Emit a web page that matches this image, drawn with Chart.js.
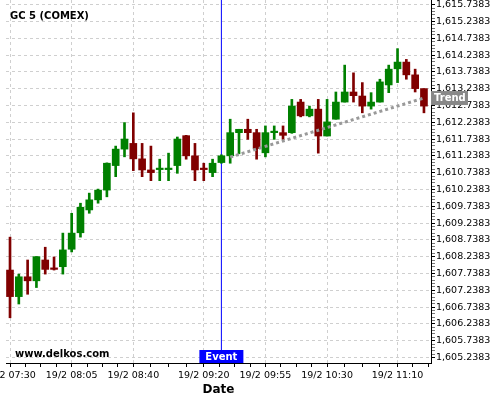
<!DOCTYPE html>
<html>
<head>
<meta charset="utf-8">
<script src="https://cdn.jsdelivr.net/npm/chart.js@4/dist/chart.umd.min.js"></script>
<style>
  html, body { margin: 0; padding: 0; background: #fff; }
  #wrap { width: 500px; height: 400px; }
</style>
</head>
<body>
<div id="wrap"><canvas id="chart" width="500" height="400"></canvas></div>
<script>
// GC 5 (COMEX), 5 minute candles
const times = [
    "19/2 07:30", "19/2 07:35", "19/2 07:40", "19/2 07:45", "19/2 07:50", "19/2 07:55",
    "19/2 08:00", "19/2 08:05", "19/2 08:10", "19/2 08:15", "19/2 08:20", "19/2 08:25",
    "19/2 08:30", "19/2 08:35", "19/2 08:40", "19/2 08:45", "19/2 08:50", "19/2 08:55",
    "19/2 09:00", "19/2 09:05", "19/2 09:10", "19/2 09:15", "19/2 09:20", "19/2 09:25",
    "19/2 09:30", "19/2 09:35", "19/2 09:40", "19/2 09:45", "19/2 09:50", "19/2 09:55",
    "19/2 10:00", "19/2 10:05", "19/2 10:10", "19/2 10:15", "19/2 10:20", "19/2 10:25",
    "19/2 10:30", "19/2 10:35", "19/2 10:40", "19/2 10:45", "19/2 10:50", "19/2 10:55",
    "19/2 11:00", "19/2 11:05", "19/2 11:10", "19/2 11:15", "19/2 11:20", "19/2 11:25"
];
const opens = [
    1607.84, 1607.05, 1607.64, 1607.52, 1608.14, 1607.88, 1607.94, 1608.46, 1608.95, 1609.63,
    1609.93, 1610.22, 1610.95, 1611.44, 1611.61, 1611.15, 1610.82, 1610.83, 1610.83, 1610.95,
    1611.84, 1611.24, 1610.85, 1610.74, 1611.04, 1611.24, 1611.93, 1612.03, 1611.93, 1611.33,
    1611.93, 1611.93, 1611.93, 1612.84, 1612.43, 1612.63, 1611.83, 1612.33, 1612.84, 1613.14,
    1613.02, 1612.72, 1612.84, 1613.35, 1613.83, 1614.03, 1613.65, 1613.24
];
const highs = [
    1608.82, 1607.72, 1608.14, 1608.24, 1608.52, 1608.23, 1608.94, 1609.53, 1609.83, 1610.13,
    1610.25, 1611.03, 1611.53, 1612.23, 1612.52, 1611.61, 1611.53, 1611.14, 1611.32, 1611.80,
    1611.85, 1611.61, 1611.02, 1611.14, 1611.27, 1612.33, 1612.03, 1612.33, 1612.03, 1612.13,
    1612.13, 1612.13, 1612.92, 1612.92, 1612.72, 1612.92, 1612.92, 1613.14, 1613.94, 1613.71,
    1613.42, 1613.12, 1613.52, 1613.94, 1614.43, 1614.11, 1613.82, 1613.24
];
const lows = [
    1606.42, 1606.83, 1607.12, 1607.32, 1607.72, 1607.84, 1607.72, 1608.38, 1608.82, 1609.53,
    1609.83, 1610.02, 1610.62, 1611.21, 1610.80, 1610.62, 1610.50, 1610.50, 1610.50, 1610.72,
    1611.14, 1610.50, 1610.50, 1610.62, 1611.02, 1611.02, 1611.30, 1611.73, 1611.14, 1611.21,
    1611.73, 1611.73, 1611.91, 1612.40, 1612.40, 1611.32, 1611.83, 1612.33, 1612.84, 1612.84,
    1612.52, 1612.63, 1612.84, 1613.12, 1613.42, 1613.52, 1613.14, 1612.52
];
const closes = [
    1607.05, 1607.64, 1607.52, 1608.24, 1607.86, 1607.86, 1608.44, 1608.94, 1609.71, 1609.93,
    1610.22, 1611.02, 1611.44, 1611.74, 1611.15, 1610.82, 1610.74, 1610.84, 1610.84, 1611.74,
    1611.24, 1610.82, 1610.83, 1611.02, 1611.24, 1611.93, 1612.03, 1611.93, 1611.46, 1611.93,
    1611.94, 1611.85, 1612.72, 1612.43, 1612.63, 1611.83, 1612.25, 1612.84, 1613.14, 1613.03,
    1612.72, 1612.84, 1613.44, 1613.82, 1614.03, 1613.65, 1613.24, 1612.72
];

// labelled x ticks (candle index)
const tickIdx = [0, 7, 14, 22, 29, 36, 44];
const minorIdx = [1.75, 3.5, 5.25, 8.75, 10.5, 12.25, 16, 18, 20, 23.75, 25.5, 27.25,
                  30.75, 32.5, 34.25, 38, 40, 42, 45.75, 47.5];

// y axis ticks: first label and step
const yFirstTick = 1605.2383;
const yLastTick = 1615.7383;
const yMin = 1605.074;
const yMax = 1615.878;

// trend line (candle index / price)
const trendX = [25, 47];
const trendY = [1611.20, 1612.96];
const eventIdx = 24;

const chartTitle = "GC 5 (COMEX)";
const watermark = "www.delkos.com";

const UP = "#008000";
const DOWN = "#800000";
const candleColors = opens.map((o, i) => closes[i] >= o ? UP : DOWN);

const FONT = "'DejaVu Sans', sans-serif";

const overlay = {
    id: "overlay",
    afterDraw(chart) {
        const { ctx, chartArea, scales } = chart;
        ctx.save();
        ctx.font = "bold 10px " + FONT;
        ctx.fillStyle = "#000";
        ctx.textAlign = "left";
        ctx.textBaseline = "alphabetic";
        ctx.fillText(chartTitle, 10, 19);
        ctx.fillText(watermark, 15, 357);

        // event tag
        const ex = scales.x.getPixelForValue(eventIdx);
        ctx.fillStyle = "#0000ff";
        ctx.fillRect(ex - 22, chartArea.bottom - 13, 44, 13);
        ctx.fillStyle = "#fff";
        ctx.textAlign = "center";
        ctx.textBaseline = "middle";
        ctx.fillText("Event", ex, chartArea.bottom - 6);

        // trend tag
        const ty = scales.y.getPixelForValue(trendY[1]);
        ctx.fillStyle = "#888";
        ctx.fillRect(chartArea.right, ty - 7, 37, 14);
        ctx.fillStyle = "#fff";
        ctx.textAlign = "left";
        ctx.fillText("Trend", chartArea.right + 3, ty + 0.5);
        ctx.restore();
    }
};

const isMajorY = v => Math.round((v - yFirstTick) * 10) % 5 === 0;

new Chart(document.getElementById("chart"), {
    type: "bar",
    data: {
        datasets: [
            {
                type: "line",
                data: trendX.map((x, i) => ({ x: x, y: trendY[i] })),
                borderColor: "#999",
                borderWidth: 3,
                borderDash: [3, 3],
                pointRadius: 0,
                order: 0
            },
            {
                data: opens.map((o, i) => ({ x: i, y: [o, closes[i]] })),
                backgroundColor: candleColors,
                barThickness: 7,
                minBarLength: 1.5,
                grouped: false,
                order: 1
            },
            {
                data: lows.map((l, i) => ({ x: i, y: [l, highs[i]] })),
                backgroundColor: candleColors,
                barThickness: 2,
                grouped: false,
                order: 2
            },
            {
                type: "line",
                data: [{ x: eventIdx, y: yMin }, { x: eventIdx, y: yMax }],
                borderColor: "#0000ff",
                borderWidth: 1,
                pointRadius: 0,
                order: 3
            }
        ]
    },
    options: {
        responsive: false,
        animation: false,
        layout: { padding: { left: 6, top: 0, right: 0, bottom: 0 } },
        plugins: {
            legend: { display: false },
            tooltip: { enabled: false }
        },
        scales: {
            x: {
                type: "linear",
                min: -0.455,
                max: 47.8,
                offset: false,
                afterBuildTicks: scale => {
                    scale.ticks = tickIdx.concat(minorIdx).sort((a, b) => a - b).map(v => ({ value: v }));
                },
                afterFit: scale => {
                    scale.height = 37;
                    scale.paddingLeft = 0;
                    scale.paddingRight = 0;
                },
                ticks: {
                    autoSkip: false,
                    maxRotation: 0,
                    padding: 3,
                    color: "#000",
                    font: { family: FONT, size: 9.5 },
                    callback: v => tickIdx.includes(v) ? times[v] : ""
                },
                grid: {
                    offset: false,
                    tickLength: 4,
                    color: ctx => (ctx.tick && tickIdx.includes(ctx.tick.value)) ? "#cfcfcf" : "rgba(0,0,0,0)",
                    tickColor: "#000"
                },
                border: { color: "#000", width: 1, dash: [3, 3] },
                title: {
                    display: true,
                    text: "Date",
                    color: "#000",
                    font: { family: FONT, size: 12, weight: "bold" },
                    padding: { top: 0, bottom: 3 }
                }
            },
            y: {
                position: "right",
                min: yMin,
                max: yMax,
                beginAtZero: false,
                afterBuildTicks: scale => {
                    const t = [];
                    for (let k = 0; k <= Math.round((yLastTick - yFirstTick) * 10); k++) {
                        t.push({ value: +(yFirstTick + k * 0.1).toFixed(4) });
                    }
                    scale.ticks = t;
                },
                afterFit: scale => {
                    scale.width = 69;
                    scale.paddingTop = 0;
                    scale.paddingBottom = 0;
                },
                ticks: {
                    autoSkip: false,
                    padding: 1,
                    color: "#000",
                    font: { family: FONT, size: 9.5 },
                    callback: v => isMajorY(v)
                        ? v.toLocaleString("en-US", { minimumFractionDigits: 4, maximumFractionDigits: 4 })
                        : ""
                },
                grid: {
                    tickLength: 4,
                    color: ctx => (ctx.tick && isMajorY(ctx.tick.value)) ? "#cfcfcf" : "rgba(0,0,0,0)",
                    tickColor: ctx => (ctx.tick && isMajorY(ctx.tick.value)) ? "#000" : "#777"
                },
                border: { color: "#000", width: 1, dash: [3, 3] }
            }
        }
    },
    plugins: [overlay]
});
</script>
</body>
</html>
